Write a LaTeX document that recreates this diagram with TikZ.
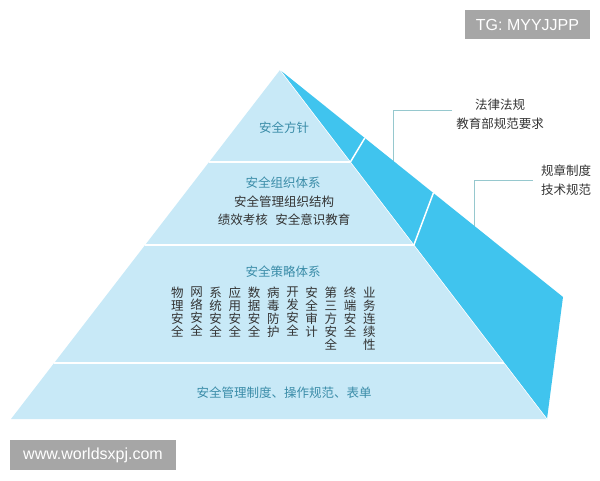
\documentclass[tikz,border=0pt]{standalone}
\usepackage{fontspec}
\setsansfont{Liberation Sans}
\newfontfamily\cjkfont{Noto Sans CJK SC}
\usetikzlibrary{calc}
\definecolor{pyrFront}{RGB}{200,233,247}
\definecolor{pyrSide}{RGB}{64,196,238}
\definecolor{pyrTitle}{RGB}{58,140,168}
\definecolor{pyrText}{RGB}{51,51,51}
\definecolor{pyrLeader}{RGB}{150,200,206}
\definecolor{markGray}{RGB}{166,166,166}
\tikzset{
  layerTitle/.style={pyrTitle, font=\cjkfont\fontsize{12.5}{15}\selectfont, inner sep=0pt},
  layerBody/.style={pyrText, font=\cjkfont\fontsize{12.5}{18}\selectfont, align=center, inner sep=0pt},
  colText/.style={pyrText, font=\cjkfont\fontsize{12.5}{12.9}\selectfont, align=center, inner sep=0pt},
  sideText/.style={pyrText, font=\cjkfont\fontsize{12.5}{19}\selectfont, align=center, inner sep=0pt},
  cutLine/.style={white, line width=1.5pt},
  leaderLine/.style={pyrLeader, line width=1pt},
  markBox/.style={fill=markGray, text=white, font=\sffamily\fontsize{16}{18}\selectfont, inner sep=0pt}
}

\begin{document}
\begin{tikzpicture}[x=1pt, y=-1pt]
        \useasboundingbox (0,0) rectangle (600,480);
        % pyramid corners
        \coordinate (apex) at (280,70);
        \coordinate (baseL) at (11,419);
        \coordinate (baseR) at (547,419);
        \coordinate (sideC) at (563,297);
        \fill[pyrSide] (apex) -- (sideC) -- (baseR) -- cycle;
        \fill[pyrFront] (apex) -- (baseR) -- (baseL) -- cycle;
        \draw[white, line width=0.6pt] (apex) -- (baseR);
        % layers
        \foreach \t [count=\i] in {0.2636, 0.5014, 0.8395}
          \draw[cutLine] ($(apex)!\t!(baseL)$) -- ($(apex)!\t!(baseR)$) coordinate (cut\i);
        \draw[cutLine] (cut1) -- ($(apex)!0.2996!(sideC)$);
        \draw[cutLine] (cut2) -- ($(apex)!0.5419!(sideC)$);
        \node[layerTitle] (policy) at (284,128) {安全方针};
        \node[layerTitle] (orgTitle) at (283,183) {安全组织体系};
        \node[layerBody] (orgBody) at (284,211) {安全管理组织结构\\绩效考核\hspace{0.6em}安全意识教育};
        \node[layerTitle] (stratTitle) at (283,272) {安全策略体系};
        \foreach \c [count=\i] in {物\\理\\安\\全, 网\\络\\安\\全, 系\\统\\安\\全, 应\\用\\安\\全, 数\\据\\安\\全, 病\\毒\\防\\护, 开\\发\\安\\全, 安\\全\\审\\计, 第\\三\\方\\安\\全, 终\\端\\安\\全, 业\\务\\连\\续\\性}
          \node[colText, anchor=north] (col\i) at ({177.3+19.2*(\i-1)}, 287) {\c};
        \node[layerTitle] (rules) at (284,393) {安全管理制度、操作规范、表单};
        % side labels
        \node[sideText] (lawLbl) at (500,114) {法律法规\\教育部规范要求};
        \node[sideText] (normLbl) at (566,180) {规章制度\\技术规范};
        \coordinate (lawEnd) at ($(apex)!0.4028!(sideC)$);
        \coordinate (normEnd) at ($(apex)!0.6855!(sideC)$);
        \draw[leaderLine] ([shift={(-4,-3.3)}]lawLbl.west) -| (lawEnd);
        \draw[leaderLine] ([shift={(-8,0)}]normLbl.west) -| (normEnd);
        % watermarks
        \node[markBox, minimum width=125, minimum height=29] (tgMark) at (527.5,24.5) {TG: MYYJJPP};
        \node[markBox, minimum width=166, minimum height=30] (webMark) at (93,455) {www.worldsxpj.com};
      \end{tikzpicture}
\end{document}
